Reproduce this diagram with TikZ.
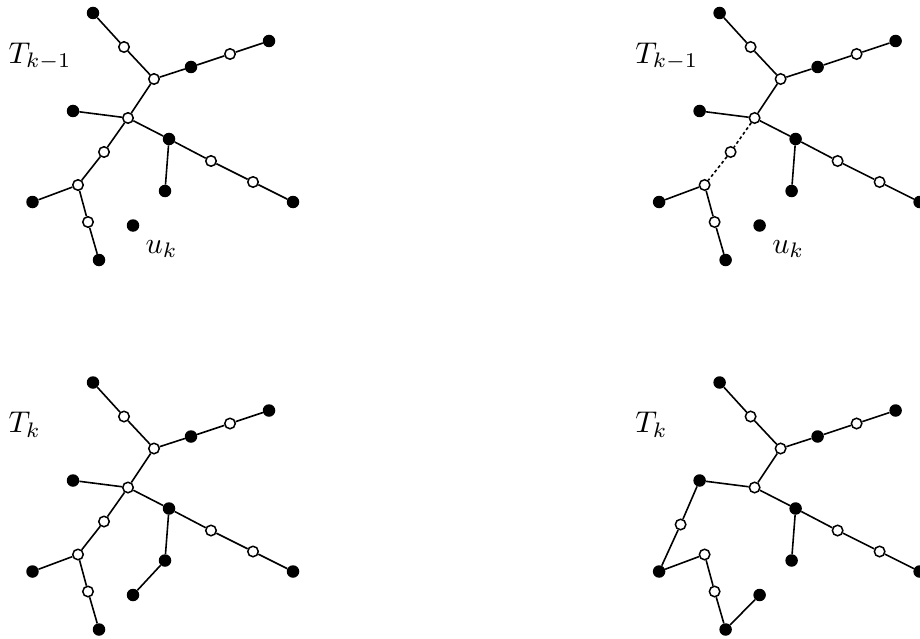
\documentclass[tikz,border=0pt]{standalone}
\usepackage{graphicx}
\tikzset{
  bdot/.style={circle,fill=black,inner sep=0pt,minimum size=12.5pt},
  wdot/.style={circle,fill=white,draw=black,line width=1.5pt,inner sep=0pt,minimum size=10.5pt},
  tedge/.style={line width=1.6pt},
  dedge/.style={line width=1.6pt,dash pattern=on 3pt off 2.6pt},
  lbl/.style={anchor=base west,inner sep=0pt},
}
\newcommand\biglbl[1]{\scalebox{3.0}{$#1$}}
\newcommand\mkpanel[3]{%
  \begin{scope}[shift={(#2,#3)}]
    \node[bdot] (#1A) at (93,13) {};
    \node[wdot] (#1B) at (124,47) {};
    \node[wdot] (#1C) at (154,79) {};
    \node[bdot] (#1D) at (191,67) {};
    \node[wdot] (#1E) at (230,54) {};
    \node[bdot] (#1F) at (269,41) {};
    \node[wdot] (#1G) at (128,118) {};
    \node[bdot] (#1H) at (73,111) {};
    \node[bdot] (#1I) at (169,139) {};
    \node[wdot] (#1J) at (211,161) {};
    \node[wdot] (#1K) at (253,182) {};
    \node[bdot] (#1L) at (293,202) {};
    \node[bdot] (#1M) at (165,191) {};
    \node[wdot] (#1O) at (78,185) {};
    \node[bdot] (#1P) at (32.5,202) {};
    \node[wdot] (#1Q) at (88,222) {};
    \node[bdot] (#1R) at (99,260) {};
    \node[bdot] (#1U) at (133,225.5) {};
  \end{scope}}
\newcommand\commonedges[1]{%
  \draw[tedge] (#1A) -- (#1B) -- (#1C) -- (#1D) -- (#1E) -- (#1F);
  \draw[tedge] (#1C) -- (#1G) -- (#1H);
  \draw[tedge] (#1G) -- (#1I) -- (#1J) -- (#1K) -- (#1L);
  \draw[tedge] (#1I) -- (#1M);
  \draw[tedge] (#1O) -- (#1Q) -- (#1R);
}
\begin{document}
\begin{tikzpicture}[x=1pt,y=-1pt]
  \useasboundingbox (0,0) rectangle (920,639);
  \clip (0,0) rectangle (920,639);
  % top left
  \mkpanel{a}{0}{0}
  \node[wdot] (aN) at (104,152) {};
  \commonedges{a}
  \draw[tedge] (aG) -- (aN) -- (aO) -- (aP);
  \node[lbl] (aT) at (8.5,63.5) {\biglbl{T_{k-1}}};
  \node[lbl] (aUl) at (145.5,253) {\biglbl{u_k}};
  % top right
  \mkpanel{b}{626.6}{0}
  \node[wdot] (bN) at (730.6,152) {};
  \commonedges{b}
  \draw[dedge] (bG) -- (bN) -- (bO);
  \draw[tedge] (bO) -- (bP);
  \node[lbl] (bT) at (635.1,63.5) {\biglbl{T_{k-1}}};
  \node[lbl] (bUl) at (772.1,253) {\biglbl{u_k}};
  % bottom left
  \mkpanel{c}{0}{369.5}
  \node[wdot] (cN) at (104,521.5) {};
  \commonedges{c}
  \draw[tedge] (cG) -- (cN) -- (cO) -- (cP);
  \draw[tedge] (cM) -- (cU);
  \node[lbl] (cT) at (8.5,432.5) {\biglbl{T_k}};
  % bottom right
  \mkpanel{d}{626.6}{369.5}
  \node[wdot] (dN) at (680.6,524.5) {};
  \commonedges{d}
  \draw[tedge] (dH) -- (dN) -- (dP) -- (dO);
  \draw[tedge] (dR) -- (dU);
  \node[lbl] (dT) at (635.1,432.5) {\biglbl{T_k}};
\end{tikzpicture}
\end{document}
